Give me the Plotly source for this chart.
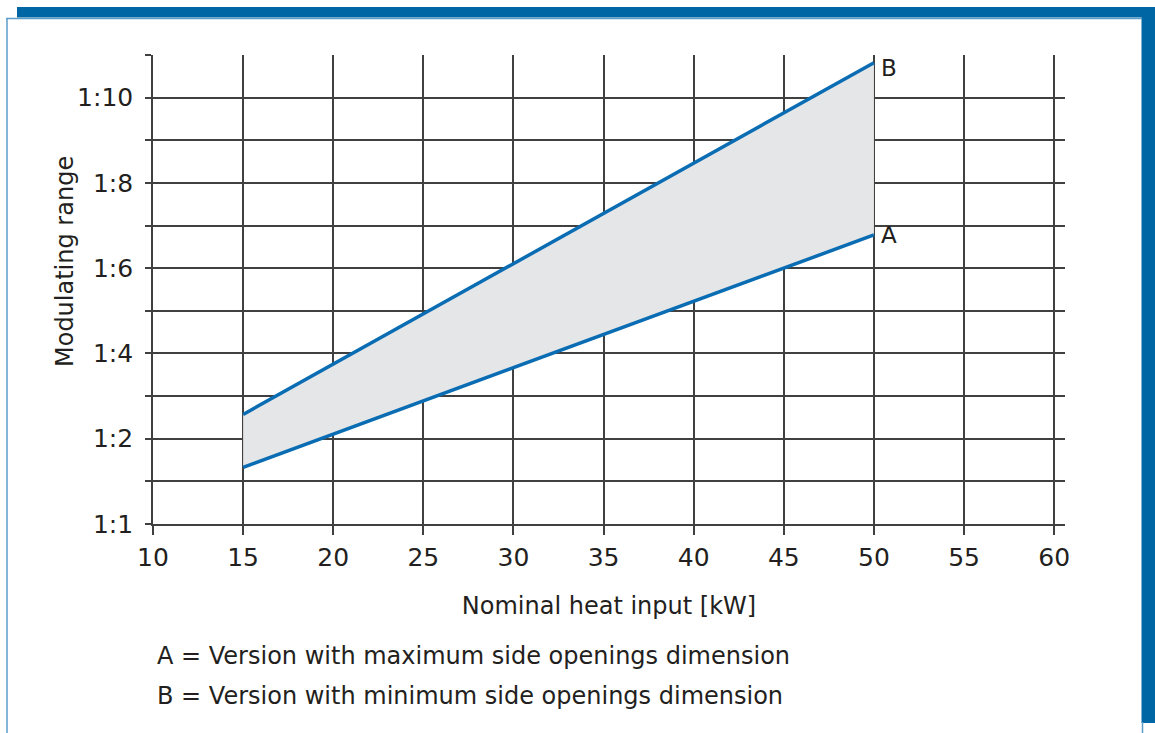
import plotly.graph_objects as go

# ---- data ----
heat_input_kw = [15, 50]
range_a = [1.33, 6.78]   # A = maximum side openings dimension
range_b = [2.57, 10.82]  # B = minimum side openings dimension
x_ticks = [10, 15, 20, 25, 30, 35, 40, 45, 50, 55, 60]
y_tickvals = [0, 1, 2, 3, 4, 5, 6, 7, 8, 9, 10, 11]
y_ticktext = ["1:1", "", "1:2", "", "1:4", "", "1:6", "", "1:8", "", "1:10", ""]
legend_lines = ["A = Version with maximum side openings dimension",
                "B = Version with minimum side openings dimension"]

W, H = 1155, 733
L, R, T, B = 153, 1065, 55, 524
FONT = "DejaVu Sans, Liberation Sans, Arial, sans-serif"
TXT = "#231F20"
BLUE = "#0A6DB3"
FRAME = "#0067A4"
GRID = "#404040"

def px(xp):
    return (xp - L) / (R - L)

def py(yp):
    return (B - yp) / (B - T)

fig = go.Figure()
fig.add_trace(go.Scatter(x=heat_input_kw, y=range_a, mode="lines",
                         line=dict(color=BLUE, width=3.5), showlegend=False))
fig.add_trace(go.Scatter(x=heat_input_kw, y=range_b, mode="lines",
                         line=dict(color=BLUE, width=3.5), fill="tonexty",
                         fillcolor="#E5E6E8", showlegend=False))

fig.add_annotation(x=heat_input_kw[-1], y=range_b[-1], text="B", showarrow=False,
                   xanchor="left", yanchor="middle", xshift=5, yshift=-5,
                   font=dict(family=FONT, size=23, color=TXT))
fig.add_annotation(x=heat_input_kw[-1], y=range_a[-1], text="A", showarrow=False,
                   xanchor="left", yanchor="middle", xshift=5, yshift=0,
                   font=dict(family=FONT, size=23, color=TXT))

for i, t in enumerate(legend_lines):
    fig.add_annotation(xref="paper", yref="paper", x=px(155), y=py(656 + 40 * i),
                       text=t, showarrow=False, xanchor="left", yanchor="middle",
                       font=dict(family=FONT, size=24, color=TXT))

# y-axis title (placed like the original, slightly above plot centre)
fig.add_annotation(xref="paper", yref="paper", x=px(65), y=py(262), text="Modulating range",
                   textangle=-90, showarrow=False, xanchor="center", yanchor="middle",
                   font=dict(family=FONT, size=24, color=TXT))

# decorative frame
shapes = [
    dict(type="rect", xref="paper", yref="paper", x0=px(17), x1=px(1160), y0=py(7), y1=py(17.5),
         fillcolor=FRAME, line=dict(width=0), layer="above"),
    dict(type="rect", xref="paper", yref="paper", x0=px(1141.5), x1=px(1160), y0=py(7), y1=py(723),
         fillcolor=FRAME, line=dict(width=0), layer="above"),
    dict(type="line", xref="paper", yref="paper", x0=px(6), x1=px(1142), y0=py(18.5), y1=py(18.5),
         line=dict(color="#5A9CC8", width=1.5), layer="above"),
    dict(type="line", xref="paper", yref="paper", x0=px(7), x1=px(7), y0=py(18.5), y1=py(740),
         line=dict(color="#5A9CC8", width=1.5), layer="above"),
    dict(type="line", xref="paper", yref="paper", x0=px(1142.5), x1=px(1142.5), y0=py(722), y1=py(740),
         line=dict(color="#5A9CC8", width=1.5), layer="above"),
]

fig.update_layout(
    width=W, height=H,
    margin=dict(l=L, r=W - R, t=T, b=H - B, autoexpand=False),
    paper_bgcolor="white", plot_bgcolor="white",
    font=dict(family=FONT, color=TXT),
    shapes=shapes,
    showlegend=False,
)
fig.update_xaxes(range=[10, 60.6], tickvals=x_ticks, showgrid=True, gridcolor=GRID, gridwidth=1.6,
                 showline=True, linecolor=GRID, linewidth=1.6, zeroline=False,
                 ticks="outside", ticklen=9, tickwidth=1.6, tickcolor=GRID,
                 tickfont=dict(size=25, color=TXT, family=FONT), ticklabelstandoff=1,
                 title=dict(text="Nominal heat input [kW]", font=dict(size=24, color=TXT, family=FONT),
                            standoff=26))
fig.update_yaxes(range=[0, 11], tickvals=y_tickvals, ticktext=y_ticktext, showgrid=True,
                 gridcolor=GRID, gridwidth=1.6, showline=True, linecolor=GRID, linewidth=1.6,
                 zeroline=False, ticks="outside", ticklen=6, tickwidth=1.6, tickcolor=GRID,
                 tickfont=dict(size=25, color=TXT, family=FONT), ticklabelstandoff=7)

fig.write_html("out.html", config={"displayModeBar": False},
               post_script="document.body.style.margin='0';document.body.style.overflow='hidden';")
